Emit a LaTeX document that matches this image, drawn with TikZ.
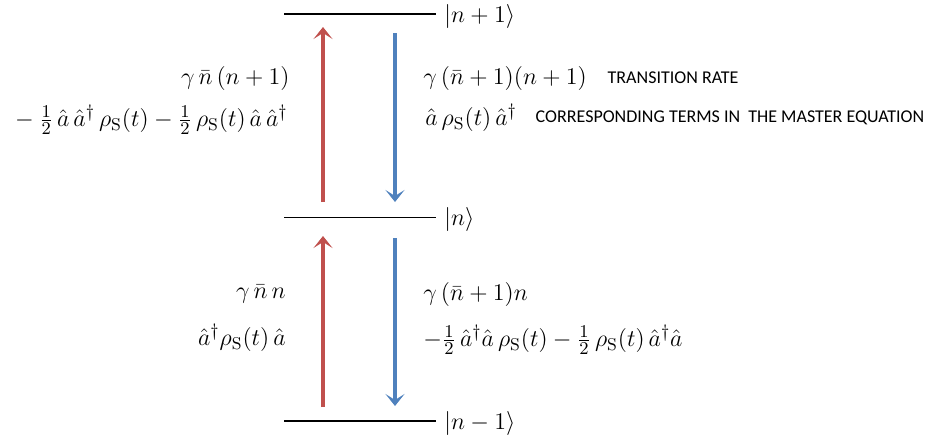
\documentclass[tikz,border=0pt]{standalone}
\usepackage{amsmath}
\usepackage{fontspec}
\usetikzlibrary{arrows.meta,positioning}
\newfontfamily\notefont{Carlito}
\definecolor{upred}{HTML}{C0504D}
\definecolor{downblue}{HTML}{4F81BD}
\newcommand{\rhoS}[0]{\rho_{\mathrm{S}}(t)}
\tikzset{
  lvl/.style={line width=0.6pt},
  up/.style={upred, line width=1.6pt, -{Stealth[length=6pt,width=9.5pt,inset=3pt]}},
  down/.style={downblue, line width=1.6pt, -{Stealth[length=6pt,width=9.5pt,inset=3pt]}},
  ket/.style={anchor=west, inner sep=0pt, xshift=4pt, yshift=-1pt},
  lhs/.style={anchor=east, inner sep=0pt},
  rhs/.style={anchor=west, inner sep=0pt},
  note/.style={font=\notefont\fontsize{9}{10}\selectfont, inner sep=0pt}
}

\begin{document}
\begin{tikzpicture}[x=0.5pt, y=-0.5pt, font=\fontsize{12.2}{14}\selectfont]
\useasboundingbox (0,0) rectangle (929,439);
%Levels
	\coordinate (top1) at (284,14);  \coordinate (top2) at (436,14);
	\coordinate (mid1) at (284,217.5); \coordinate (mid2) at (436,217.5);
	\coordinate (bot1) at (284,421); \coordinate (bot2) at (436,421);
	\draw[lvl] (top1) -- (top2);
	\draw[lvl] (mid1) -- (mid2);
	\draw[lvl] (bot1) -- (bot2);
	\node[ket] (kUp) at (top2) {$|n+1\rangle$};
	\node[ket] (kMid) at (mid2) {$|n\rangle$};
	\node[ket] (kDown) at (bot2) {$|n-1\rangle$};
%Arrows
	\coordinate (ra1) at (323,202); \coordinate (ra2) at (323,27);
	\coordinate (ba1) at (395,33);  \coordinate (ba2) at (395,202);
	\coordinate (rb1) at (323,407); \coordinate (rb2) at (323,236);
	\coordinate (bb1) at (395,238); \coordinate (bb2) at (395,406);
	\draw[up] (ra1) -- (ra2);
	\draw[down] (ba1) -- (ba2);
	\draw[up] (rb1) -- (rb2);
	\draw[down] (bb1) -- (bb2);
%the upper pair
	\node[lhs] (rateA) at (290,78) {$\gamma\,\bar n\,(n+1)$};
	\node[lhs] (termA) at (288,120) {${}-\tfrac{1}{2}\,\hat a\,\hat a^\dagger\,\rhoS-\tfrac{1}{2}\,\rhoS\,\hat a\,\hat a^\dagger$};
	\node[rhs] (rateB) at (423,78) {$\gamma\,(\bar n+1)(n+1)$};
	\node[rhs] (termB) at (425,118) {$\hat a\,\rhoS\,\hat a^\dagger$};
	\node[note, right=10pt of rateB] (noteRate) {TRANSITION RATE};
	\node[note, right=9pt of termB] (noteTerm) {CORRESPONDING TERMS IN\ \ THE MASTER EQUATION};
%the lower pair
	\node[lhs] (rateC) at (286,294) {$\gamma\,\bar n\,n$};
	\node[lhs] (termC) at (286,338) {$\hat a^\dagger\rhoS\,\hat a$};
	\node[rhs] (rateD) at (423,294) {$\gamma\,(\bar n+1)n$};
	\node[rhs] (termD) at (423,340) {$-\tfrac{1}{2}\,\hat a^\dagger\hat a\,\rhoS-\tfrac{1}{2}\,\rhoS\,\hat a^\dagger\hat a$};
\end{tikzpicture}
\end{document}
